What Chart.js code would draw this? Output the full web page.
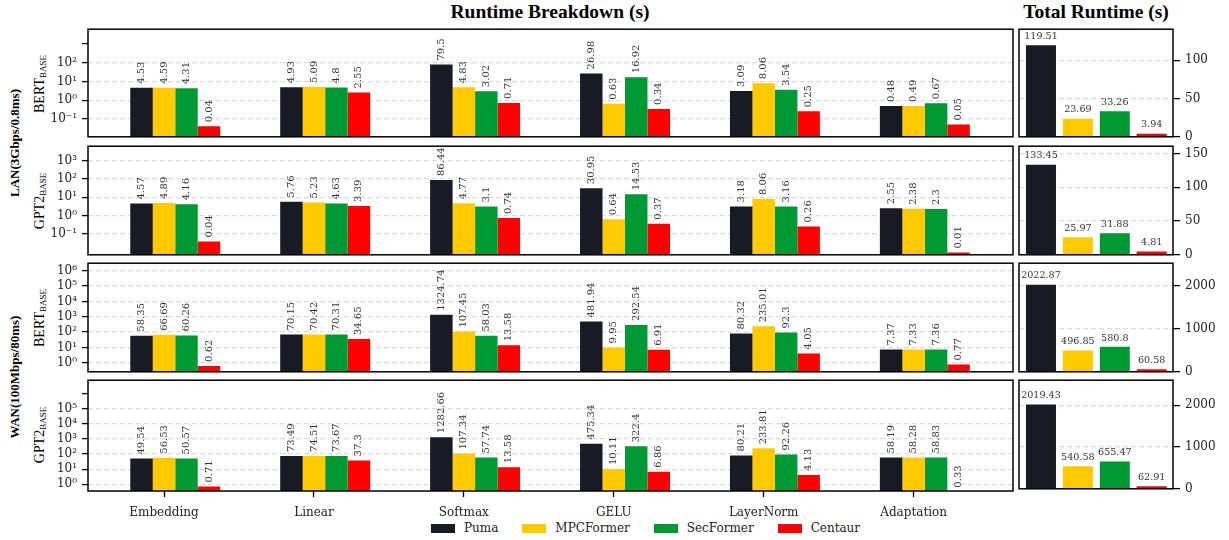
<!DOCTYPE html>
<html>
<head>
<meta charset="utf-8">
<title>Runtime Breakdown</title>
<script src="https://cdn.jsdelivr.net/npm/chart.js@4.4.1/dist/chart.umd.min.js"></script>
<style>
  html, body { margin: 0; padding: 0; background: #fff; }
  #fig { position: relative; width: 1229px; height: 540px; overflow: hidden; background: #fff; }
  #fig canvas { position: absolute; }
  .title { position: absolute; top: 1px; font-family: 'Liberation Serif', 'Times New Roman', serif; font-weight: bold; font-size: 19.5px; color: #000; white-space: nowrap; transform: translateX(-50%); }
  .vlabel { position: absolute; font-family: 'Liberation Serif', 'Times New Roman', serif; font-size: 14px; color: #000; white-space: nowrap; transform: translate(-50%, -50%) rotate(-90deg); line-height: 1; }
  .vlabel sub { font-size: 9px; vertical-align: -2px; }
  .vlabel.group { font-weight: bold; font-size: 13px; }
  #legend { position: absolute; left: 431px; top: 520px; display: flex; align-items: center; gap: 24px; font-family: 'DejaVu Serif', serif; font-size: 12px; color: #222; line-height: 16px; }
  #legend .item { display: flex; align-items: center; }
  #legend .sw { display: inline-block; width: 24px; height: 9px; margin-right: 9px; }
</style>
</head>
<body>
<div id="fig">
  <div class="title" style="left:550px">Runtime Breakdown (s)</div>
  <div class="title" style="left:1096px">Total Runtime (s)</div>
  <div class="vlabel group" style="left:14px; top:143px">LAN(3Gbps/0.8ms)</div>
  <div class="vlabel group" style="left:14px; top:377px">WAN(100Mbps/80ms)</div>
  <div class="vlabel" style="left:40px; top:84px">BERT<sub>BASE</sub></div>
  <div class="vlabel" style="left:40px; top:201px">GPT2<sub>BASE</sub></div>
  <div class="vlabel" style="left:40px; top:318px">BERT<sub>BASE</sub></div>
  <div class="vlabel" style="left:40px; top:435px">GPT2<sub>BASE</sub></div>
  <div id="legend"></div>
</div>
<script>
// ---- data -------------------------------------------------------------
const categories = ['Embedding', 'Linear', 'Softmax', 'GELU', 'LayerNorm', 'Adaptation'];
const methods = ['Puma', 'MPCFormer', 'SecFormer', 'Centaur'];

// BERT-base over LAN (seconds per operator)
const bertLanPuma      = [4.53, 4.93, 79.5, 26.98, 3.09, 0.48];
const bertLanMPCFormer = [4.59, 5.09, 4.83, 0.63, 8.06, 0.49];
const bertLanSecFormer = [4.31, 4.8, 3.02, 16.92, 3.54, 0.67];
const bertLanCentaur   = [0.04, 2.55, 0.71, 0.34, 0.25, 0.05];
const bertLanTotal     = [119.51, 23.69, 33.26, 3.94];

// GPT2-base over LAN
const gpt2LanPuma      = [4.57, 5.76, 86.44, 30.95, 3.18, 2.55];
const gpt2LanMPCFormer = [4.89, 5.23, 4.77, 0.64, 8.06, 2.38];
const gpt2LanSecFormer = [4.16, 4.63, 3.1, 14.53, 3.16, 2.3];
const gpt2LanCentaur   = [0.04, 3.39, 0.74, 0.37, 0.26, 0.01];
const gpt2LanTotal     = [133.45, 25.97, 31.88, 4.81];

// BERT-base over WAN
const bertWanPuma      = [58.35, 70.15, 1324.74, 481.94, 80.32, 7.37];
const bertWanMPCFormer = [66.69, 70.42, 107.45, 9.95, 235.01, 7.33];
const bertWanSecFormer = [60.26, 70.31, 58.03, 292.54, 92.3, 7.36];
const bertWanCentaur   = [0.62, 34.65, 13.58, 6.91, 4.05, 0.77];
const bertWanTotal     = [2022.87, 496.85, 580.8, 60.58];

// GPT2-base over WAN
const gpt2WanPuma      = [49.54, 73.49, 1282.66, 475.34, 80.21, 58.19];
const gpt2WanMPCFormer = [56.53, 74.51, 107.34, 10.11, 233.81, 58.28];
const gpt2WanSecFormer = [50.57, 73.67, 57.74, 322.4, 92.26, 58.83];
const gpt2WanCentaur   = [0.71, 37.3, 13.58, 6.86, 4.13, 0.33];
const gpt2WanTotal     = [2019.43, 540.58, 655.47, 62.91];

// tick values (log panels: decades; unlabeled decades get a bare tick mark)
const lanDecades = [-1, 0, 1, 2, 3];
const wanDecades = [0, 1, 2, 3, 4, 5, 6];
const bertLanUnlabeled = [3];
const gpt2WanUnlabeled = [6];
const lanBertTotalTicks = [0, 50, 100];
const lanGpt2TotalTicks = [0, 50, 100, 150];
const wanTotalTicks = [0, 1000, 2000];

// ---- styling ----------------------------------------------------------
const colors = ['#181a24', '#ffca00', '#019934', '#ff0000'];
const FONT = "'DejaVu Serif', serif";
const GRID = '#dcdcdc';
const LEFT = { x: 88, w: 925 };     // breakdown panel frame (x, width)
const RIGHT = { x: 1019, w: 154 };  // total panel frame
const ROWS = [
  { top: 29, h: 110 },
  { top: 146, h: 111 },
  { top: 263, h: 111 },
  { top: 380, h: 111 }
];
const PAD_TOP = 12;
const BAR_SHIFT = 0.075;  // half a bar: the category tick sits under the second bar

const fig = document.getElementById('fig');

function makeCanvas(left, top, width, height) {
  const c = document.createElement('canvas');
  c.width = width; c.height = height;
  c.style.left = left + 'px'; c.style.top = top + 'px';
  c.style.width = width + 'px'; c.style.height = height + 'px';
  fig.appendChild(c);
  return c;
}

const SUP = { '-': '\u207B', '0': '\u2070', '1': '\u00B9', '2': '\u00B2', '3': '\u00B3', '4': '\u2074', '5': '\u2075', '6': '\u2076', '7': '\u2077', '8': '\u2078', '9': '\u2079' };
const pow10Label = e => '10' + String(e).split('').map(ch => SUP[ch]).join('');

// frame drawn around every plotting area
const framePlugin = {
  id: 'frame',
  afterDatasetsDraw(chart) {
    const { ctx, chartArea: a } = chart;
    ctx.save();
    ctx.lineWidth = 1.5;
    ctx.strokeStyle = '#000';
    ctx.strokeRect(a.left, a.top, a.right - a.left, a.bottom - a.top);
    ctx.restore();
  }
};

// value printed above each bar
const valueLabelPlugin = {
  id: 'valueLabels',
  afterDatasetsDraw(chart, args, opts) {
    const ctx = chart.ctx;
    ctx.save();
    ctx.font = opts.font;
    ctx.fillStyle = opts.color;
    chart.data.datasets.forEach((ds, i) => {
      const meta = chart.getDatasetMeta(i);
      meta.data.forEach((bar, j) => {
        const text = String(ds.data[j].y);
        if (opts.rotate) {
          ctx.save();
          ctx.translate(bar.x, bar.y - opts.gap);
          ctx.rotate(-Math.PI / 2);
          ctx.textAlign = 'left';
          ctx.textBaseline = 'middle';
          ctx.fillText(text, 0, 0);
          ctx.restore();
        } else {
          ctx.textAlign = 'center';
          ctx.textBaseline = 'bottom';
          ctx.fillText(text, bar.x, bar.y - opts.gap);
        }
      });
    });
    ctx.restore();
  }
};

function fixedTicks(values) {
  return scale => { scale.ticks = values.map(v => ({ value: v })); };
}

function breakdownPanel(row, series, logMin, logMax, decades, unlabeled, showX) {
  const xH = showX ? 34 : 0;
  const height = PAD_TOP + row.h + xH + (showX ? 2 : 10);
  const canvas = makeCanvas(0, row.top - PAD_TOP, LEFT.x + LEFT.w + 4, height);
  const datasets = series.map((vals, k) => ({
    label: methods[k],
    data: vals.map((v, i) => ({ x: i + BAR_SHIFT, y: v })),
    backgroundColor: colors[k],
    borderWidth: 0,
    categoryPercentage: 0.6,
    barPercentage: 1.0
  }));
  const hidden = v => unlabeled.includes(Math.round(Math.log10(v)));
  return new Chart(canvas, {
    type: 'bar',
    data: { datasets },
    plugins: [framePlugin, valueLabelPlugin],
    options: {
      responsive: false,
      animation: false,
      devicePixelRatio: 1,
      layout: { padding: { top: PAD_TOP, left: 0, right: 4, bottom: showX ? 2 : 10 } },
      plugins: {
        legend: { display: false },
        tooltip: { enabled: false },
        valueLabels: { font: "10px 'DejaVu Serif', serif", color: '#333', gap: 4, rotate: true }
      },
      scales: {
        x: {
          type: 'linear',
          min: -0.507,
          max: 5.663,
          offset: false,
          display: showX,
          bounds: 'data',
          afterBuildTicks: fixedTicks(categories.map((c, i) => i)),
          afterFit: s => { s.height = xH; },
          grid: { display: true, offset: false, drawOnChartArea: false, drawTicks: true, tickLength: 6, tickColor: '#000', tickWidth: 1.3 },
          border: { display: false },
          ticks: { font: { family: FONT, size: 12 }, color: '#222', padding: 9, maxRotation: 0, autoSkip: false, callback: v => categories[v] }
        },
        y: {
          type: 'logarithmic',
          min: Math.pow(10, logMin),
          max: Math.pow(10, logMax),
          bounds: 'data',
          afterBuildTicks: fixedTicks(decades.map(e => Math.pow(10, e))),
          afterFit: s => { s.width = LEFT.x; },
          grid: {
            color: ctx => hidden(ctx.tick.value) ? 'rgba(0,0,0,0)' : GRID,
            lineWidth: 1.2,
            tickLength: 6,
            tickColor: '#000',
            tickWidth: 1.3,
            tickBorderDash: []
          },
          border: { display: false, dash: [5, 3] },
          ticks: {
            font: { family: FONT, size: 12 },
            color: '#222',
            padding: 5,
            autoSkip: false,
            callback: v => hidden(v) ? '' : pow10Label(Math.round(Math.log10(v)))
          }
        }
      }
    }
  });
}

function totalPanel(row, totals, yMax, ticks) {
  const height = PAD_TOP + row.h + 10;
  const canvas = makeCanvas(RIGHT.x - 4, row.top - PAD_TOP, 4 + RIGHT.w + 52 + 2, height);
  return new Chart(canvas, {
    type: 'bar',
    data: {
      datasets: [{
        label: 'Total',
        data: totals.map((v, i) => ({ x: i, y: v })),
        backgroundColor: colors,
        borderWidth: 0,
        categoryPercentage: 0.8125,
        barPercentage: 1.0
      }]
    },
    plugins: [framePlugin, valueLabelPlugin],
    options: {
      responsive: false,
      animation: false,
      devicePixelRatio: 1,
      layout: { padding: { top: PAD_TOP, left: 4, right: 2, bottom: 10 } },
      plugins: {
        legend: { display: false },
        tooltip: { enabled: false },
        valueLabels: { font: "9.6px 'DejaVu Serif', serif", color: '#333', gap: 4, rotate: false }
      },
      scales: {
        x: {
          type: 'linear',
          min: -0.595,
          max: 3.576,
          offset: false,
          display: false,
          bounds: 'data',
          grid: { offset: false },
          afterBuildTicks: fixedTicks(methods.map((m, i) => i))
        },
        y: {
          type: 'linear',
          position: 'right',
          min: 0,
          max: yMax,
          bounds: 'data',
          afterBuildTicks: fixedTicks(ticks),
          afterFit: s => { s.width = 52; },
          grid: {
            color: ctx => ctx.tick.value === 0 ? 'rgba(0,0,0,0)' : GRID,
            lineWidth: 1.2,
            tickLength: 7,
            tickColor: '#000',
            tickWidth: 1.3,
            tickBorderDash: []
          },
          border: { display: false, dash: [5, 3] },
          ticks: { font: { family: FONT, size: 12 }, color: '#222', padding: 5, autoSkip: false, callback: v => String(v) }
        }
      }
    }
  });
}

breakdownPanel(ROWS[0], [bertLanPuma, bertLanMPCFormer, bertLanSecFormer, bertLanCentaur], -1.963, 3.796, lanDecades, bertLanUnlabeled, false);
breakdownPanel(ROWS[1], [gpt2LanPuma, gpt2LanMPCFormer, gpt2LanSecFormer, gpt2LanCentaur], -2.124, 3.771, lanDecades, [], false);
breakdownPanel(ROWS[2], [bertWanPuma, bertWanMPCFormer, bertWanSecFormer, bertWanCentaur], -0.593, 6.49, wanDecades, [], false);
breakdownPanel(ROWS[3], [gpt2WanPuma, gpt2WanMPCFormer, gpt2WanSecFormer, gpt2WanCentaur], -0.44, 6.86, wanDecades, gpt2WanUnlabeled, true);

totalPanel(ROWS[0], bertLanTotal, 140.5, lanBertTotalTicks);
totalPanel(ROWS[1], gpt2LanTotal, 161, lanGpt2TotalTicks);
totalPanel(ROWS[2], bertWanTotal, 2523, wanTotalTicks);
totalPanel(ROWS[3], gpt2WanTotal, 2600, wanTotalTicks);

// legend
const legend = document.getElementById('legend');
methods.forEach((m, k) => {
  const item = document.createElement('span');
  item.className = 'item';
  const sw = document.createElement('span');
  sw.className = 'sw';
  sw.style.background = colors[k];
  item.appendChild(sw);
  item.appendChild(document.createTextNode(m));
  legend.appendChild(item);
});
</script>
</body>
</html>
